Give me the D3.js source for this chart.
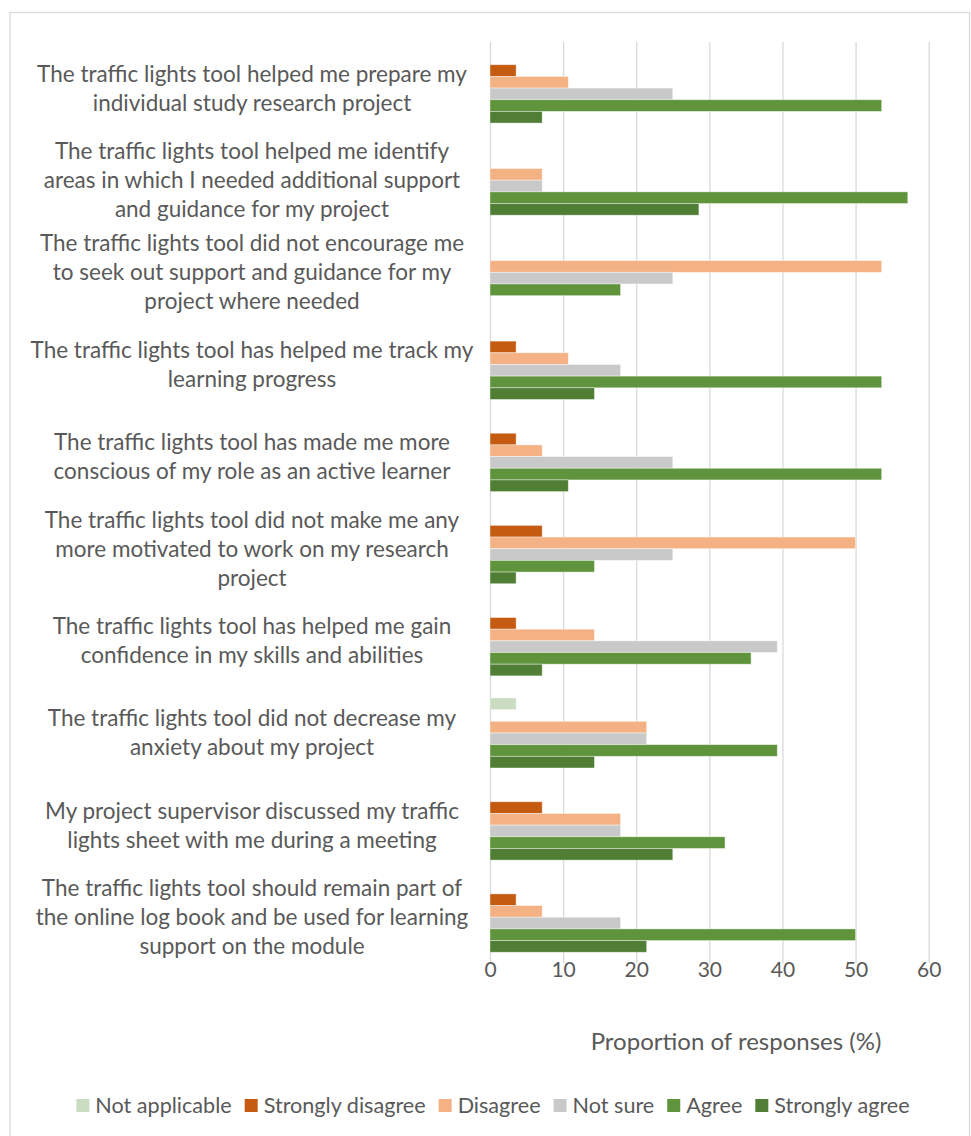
<!DOCTYPE html>
<html><head><meta charset="utf-8">
<script src="https://cdn.jsdelivr.net/npm/d3@7"></script>
<style>html,body{margin:0;padding:0;background:#fff;}svg{display:block;}</style>
</head><body>
<script>
const categories = [
  "The traffic lights tool helped me prepare my\nindividual study research project",
  "The traffic lights tool helped me identify\nareas in which I needed additional support\nand guidance for my project",
  "The traffic lights tool did not encourage me\nto seek out support and guidance for my\nproject where needed",
  "The traffic lights tool has helped me track my\nlearning progress",
  "The traffic lights tool has made me more\nconscious of my role as an active learner",
  "The traffic lights tool did not make me any\nmore motivated to work on my research\nproject",
  "The traffic lights tool has helped me gain\nconfidence in my skills and abilities",
  "The traffic lights tool did not decrease my\nanxiety about my project",
  "My project supervisor discussed my traffic\nlights sheet with me during a meeting",
  "The traffic lights tool should remain part of\nthe online log book and be used for learning\nsupport on the module"
];
const seriesNames = ["Not applicable","Strongly disagree","Disagree","Not sure","Agree","Strongly agree"];
const notApplicable    = [0,0,0,0,0,0,0,3.57,0,0];
const stronglyDisagree = [3.57,0,0,3.57,3.57,7.14,3.57,0,7.14,3.57];
const disagree         = [10.71,7.14,53.57,10.71,7.14,50,14.29,21.43,17.86,7.14];
const notSure          = [25,7.14,25,17.86,25,25,39.29,21.43,17.86,17.86];
const agree            = [53.57,57.14,17.86,53.57,53.57,14.29,35.71,39.29,32.14,50];
const stronglyAgree    = [7.14,28.57,0,14.29,10.71,3.57,7.14,14.29,25,21.43];
const xTicks = [0,10,20,30,40,50,60];
const axisTitle = "Proportion of responses (%)";
const colors = ["#cadcc2","#c55a11","#f4b183","#c9c9c9","#5f943c","#507e34"];

const seriesValues = [notApplicable, stronglyDisagree, disagree, notSure, agree, stronglyAgree];

const W = 971, H = 1136;
const svg = d3.select("body").append("svg").attr("width", W).attr("height", H);
const FONT = "Lato, 'Open Sans', sans-serif";
const TXT = "#595959";

svg.append("rect").attr("x",10).attr("y",12.5).attr("width",959.5).attr("height",1140)
  .attr("fill","#fff").attr("stroke","#d9d9d9").attr("stroke-width",1.25);

const x = d3.scaleLinear().domain([0,60]).range([490, 928.7]);
const y0 = d3.scaleBand().domain(d3.range(categories.length)).range([42, 963.3]).padding(0);
const gap = y0.bandwidth()*0.24;
const y1 = d3.scaleBand().domain(d3.range(seriesNames.length)).range([gap/2, y0.bandwidth()-gap/2]).padding(0);

// gridlines via axis
const gridAxis = d3.axisBottom(x).tickValues(xTicks).tickSize(-(963.3-42)).tickFormat("");
const g = svg.append("g").attr("transform","translate(0,963.3)").call(gridAxis);
g.select(".domain").remove();
g.selectAll(".tick line").attr("stroke","#d9d9d9").attr("stroke-width",1.3);

// tick labels
const labAxis = d3.axisBottom(x).tickValues(xTicks).tickSize(0).tickPadding(0).tickFormat(d3.format("d"));
const la = svg.append("g").attr("transform","translate(0,963.3)").call(labAxis);
la.select(".domain").remove();
la.selectAll("text").attr("font-family",FONT).attr("font-size",21).attr("fill",TXT).attr("dy","0").attr("y",14);

// bars
const groups = svg.append("g").selectAll("g").data(categories).join("g")
  .attr("transform",(d,i)=>`translate(0,${y0(i)})`);
groups.selectAll("rect").data((d,i)=>seriesValues.map((s,k)=>({k, v:s[i]})))
  .join("rect")
  .attr("x", x(0))
  .attr("y", d=>y1(d.k))
  .attr("width", d=>x(d.v)-x(0))
  .attr("height", y1.bandwidth())
  .attr("fill", d=>colors[d.k])
  .attr("stroke", d=>d.v>0?"rgba(255,255,255,0.5)":"none")
  .attr("stroke-width",0.8);

// category labels
const lineH = 29;
categories.forEach((c,i)=>{
  const lines = c.split("\n");
  const cy = y0(i) + y0.bandwidth()/2;
  const t = svg.append("text").attr("x",252).attr("text-anchor","middle")
    .attr("font-family",FONT).attr("font-size",22.5).attr("fill",TXT);
  lines.forEach((ln,j)=>{
    t.append("tspan").attr("x",252)
      .attr("y", cy + (j-(lines.length-1)/2)*lineH + 8)
      .text(ln);
  });
});

// axis title
svg.append("text").attr("x",736).attr("y",1050).attr("text-anchor","middle")
  .attr("font-family",FONT).attr("font-size",24).attr("fill",TXT).text(axisTitle);

// legend
const leg = svg.append("g");
let lx = 0;
const items = [];
seriesNames.forEach((n,k)=>{
  const it = leg.append("g");
  it.append("rect").attr("x",0).attr("y",-6).attr("width",13).attr("height",13).attr("fill",colors[k]);
  const tx = it.append("text").attr("x",19).attr("y",7.5).attr("font-family",FONT).attr("font-size",21.6).attr("fill",TXT).text(n);
  const w = 19 + tx.node().getComputedTextLength();
  items.push({it, w});
});
const spacing = 13;
const total = d3.sum(items, d=>d.w) + spacing*(items.length-1);
lx = 493 - total/2;
items.forEach(d=>{ d.it.attr("transform",`translate(${lx},1105)`); lx += d.w + spacing; });
</script>
</body></html>
